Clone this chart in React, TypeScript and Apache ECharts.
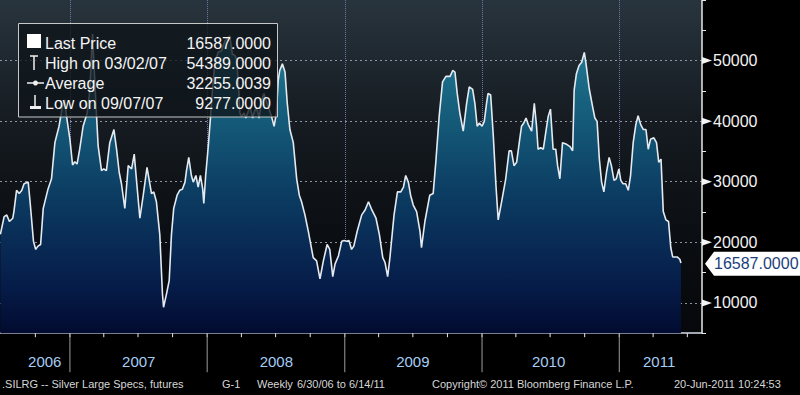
import React, { useEffect, useRef } from 'react';
import * as echarts from 'echarts';

const DATES = [
  '2006-06-30','2006-07-10','2006-07-17','2006-07-24','2006-08-02','2006-08-05','2006-08-12','2006-08-19','2006-08-26','2006-09-01',
  '2006-09-12','2006-09-17','2006-09-26','2006-10-02','2006-10-08','2006-10-15','2006-10-22','2006-11-04','2006-11-13','2006-11-22',
  '2006-12-03','2006-12-12','2006-12-18','2006-12-23','2007-01-01','2007-01-08','2007-01-14','2007-01-20','2007-01-27','2007-02-05',
  '2007-02-16','2007-02-23','2007-03-02','2007-03-11','2007-03-17','2007-03-26','2007-04-01','2007-04-08','2007-04-17','2007-04-28',
  '2007-05-05','2007-05-12','2007-05-18','2007-05-27','2007-06-05','2007-06-14','2007-06-21','2007-06-29','2007-07-06','2007-07-15',
  '2007-07-25','2007-08-06','2007-08-12','2007-08-19','2007-08-28','2007-09-04','2007-09-07','2007-09-15','2007-09-22','2007-09-28',
  '2007-10-04','2007-10-13','2007-10-20','2007-10-27','2007-11-03','2007-11-07','2007-11-13','2007-11-20','2007-11-25','2007-12-02',
  '2007-12-08','2007-12-14','2007-12-20','2007-12-23','2007-12-28','2008-01-04','2008-01-10','2008-01-15','2008-01-21','2008-01-30',
  '2008-02-08','2008-02-17','2008-02-26','2008-03-01','2008-03-08','2008-03-15','2008-03-19','2008-03-24','2008-03-28','2008-04-01',
  '2008-04-08','2008-04-13','2008-04-19','2008-04-24','2008-05-01','2008-05-07','2008-05-13','2008-05-18','2008-05-25','2008-05-31',
  '2008-06-05','2008-06-11','2008-06-20','2008-06-27','2008-07-03','2008-07-08','2008-07-12','2008-07-19','2008-07-26','2008-08-01',
  '2008-08-08','2008-08-17','2008-08-26','2008-09-02','2008-09-08','2008-09-17','2008-09-26','2008-10-09','2008-10-18','2008-10-27',
  '2008-11-05','2008-11-15','2008-11-22','2008-11-30','2008-12-06','2008-12-15','2008-12-24','2008-12-30','2009-01-06','2009-01-12',
  '2009-01-19','2009-01-25','2009-02-03','2009-02-15','2009-02-24','2009-03-05','2009-03-14','2009-03-25','2009-04-03','2009-04-12',
  '2009-04-18','2009-04-25','2009-05-01','2009-05-12','2009-05-21','2009-05-30','2009-06-06','2009-06-12','2009-06-19','2009-06-25',
  '2009-07-02','2009-07-11','2009-07-20','2009-07-24','2009-08-02','2009-08-15','2009-08-24','2009-08-31','2009-09-09','2009-09-18',
  '2009-09-27','2009-10-08','2009-10-15','2009-10-21','2009-10-27','2009-11-03','2009-11-12','2009-11-21','2009-11-28','2009-12-07',
  '2009-12-13','2009-12-19','2009-12-25','2010-01-01','2010-01-07','2010-01-13','2010-01-17','2010-01-24','2010-01-31','2010-02-07',
  '2010-02-13','2010-02-22','2010-03-05','2010-03-14','2010-03-20','2010-03-27','2010-04-03','2010-04-10','2010-04-16','2010-04-22',
  '2010-04-28','2010-05-04','2010-05-13','2010-05-20','2010-05-26','2010-05-30','2010-06-06','2010-06-13','2010-06-20','2010-06-26',
  '2010-07-02','2010-07-09','2010-07-16','2010-07-21','2010-07-27','2010-08-03','2010-08-14','2010-08-23','2010-08-30','2010-09-03',
  '2010-09-09','2010-09-16','2010-09-23','2010-09-30','2010-10-04','2010-10-13','2010-10-22','2010-10-28','2010-11-03','2010-11-09',
  '2010-11-15','2010-11-21','2010-11-28','2010-12-05','2010-12-11','2010-12-18','2010-12-24','2010-12-31','2011-01-05','2011-01-11',
  '2011-01-18','2011-01-25','2011-01-31','2011-02-07','2011-02-14','2011-02-20','2011-02-27','2011-03-06','2011-03-13','2011-03-19',
  '2011-03-25','2011-04-03','2011-04-10','2011-04-16','2011-04-22','2011-04-28','2011-05-05','2011-05-12','2011-05-18','2011-05-23',
  '2011-05-29','2011-06-04','2011-06-11','2011-06-14'
];

const VALUES = [
  21300,24250,24500,23440,23980,25070,28590,28050,28590,29670,
  29940,26690,20190,18830,19380,19650,25610,28860,30490,36450,
  39160,42410,43500,40790,37000,32760,33310,32930,35370,39160,
  41330,45120,54389,42950,35910,31840,32110,31840,36450,38620,
  35370,31570,29670,25610,32660,32110,34550,28860,23980,27780,
  32380,28050,28320,26690,21270,11520,9277,11520,13690,21270,
  25610,27780,28590,28750,29940,31840,34010,31030,29940,31030,
  29130,31030,28860,26420,31030,35910,40790,45120,49460,51360,
  51630,53250,53790,54060,51080,50810,50270,46210,41330,40790,
  41330,40520,41600,42410,40520,41870,41870,40520,43500,44580,
  43500,42410,40790,39160,41330,46750,48370,49460,48100,42950,
  38620,36450,30490,27780,26690,24530,21820,17480,16940,13960,
  16940,19650,18830,14340,16400,17750,20190,20300,20190,20300,
  18830,19380,21820,24530,25340,26690,25340,23980,21270,17480,
  16670,14340,17480,24530,28320,28320,29130,31030,29940,27780,
  26150,25070,21820,19110,23440,27780,28050,33200,40790,46480,
  47400,47400,48370,48100,44580,41330,38350,42950,45660,45230,
  42950,39160,39700,39160,39970,42950,44580,44310,37530,29400,
  23710,26690,30490,35100,35100,32660,33200,36450,39160,39700,
  40520,39430,38350,42950,39160,35370,35640,35370,38350,40790,
  41980,35370,35370,32660,30490,36450,36180,35800,35100,45120,
  47830,49190,49730,51360,49730,45390,42410,40520,39970,33740,
  29940,28320,31570,34010,32660,30220,30490,32110,30220,29670,
  29670,28590,31030,36450,39430,40900,39430,38620,38620,35370,
  37000,37260,36450,33200,33740,25070,23710,23440,19110,17590,
  17590,17590,17210,16587
];

const X_MIN = '2006-06-29';
const X_MAX = '2011-08-09';
const Y_MIN = 5000;
const Y_MAX = 60000;
const Y_STEP = 5000;
const Y_GRID = [10000, 20000, 30000, 40000, 50000];
const YEAR_STARTS = ['2007-01-01', '2008-01-01', '2009-01-01', '2010-01-01', '2011-01-01'];
const QUARTER_TICKS = [
  '2006-10-01', '2007-01-01', '2007-04-01', '2007-07-01', '2007-10-01',
  '2008-01-01', '2008-04-01', '2008-07-01', '2008-10-01',
  '2009-01-01', '2009-04-01', '2009-07-01', '2009-10-01',
  '2010-01-01', '2010-04-01', '2010-07-01', '2010-10-01',
  '2011-01-01', '2011-04-01', '2011-07-01'
];
const YEAR_LABELS = ['2006', '2007', '2008', '2009', '2010', '2011'];
const YEAR_LABEL_DATES = ['2006-10-26', '2007-07-03', '2008-07-03', '2009-07-01', '2010-06-27', '2011-04-17'];
const LAST_PRICE = 16587;
const LAST_PRICE_TEXT = '16587.0000';
const LEGEND_LABELS = ['Last Price', 'High on 03/02/07', 'Average', 'Low on 09/07/07'];
const LEGEND_VALUES = ['16587.0000', '54389.0000', '32255.0039', '9277.0000'];
const FOOTER_TEXTS = [
  '.SILRG -- Silver Large Specs, futures',
  'G-1',
  'Weekly',
  '6/30/06 to 6/14/11',
  'Copyright\u00A9 2011 Bloomberg Finance L.P.',
  '20-Jun-2011 10:24:53'
];
const FOOTER_X = [2, 222, 257, 297, 432, 674];

const FONT = '"Liberation Sans", Arial, sans-serif';

const toTime = (d: string) => new Date(d + 'T00:00:00').getTime();

export default function App() {
  const ref = useRef<HTMLDivElement>(null);

  useEffect(() => {
    if (!ref.current) return;
    const chart = echarts.init(ref.current, undefined, { renderer: 'svg' });

    const areaGradient = new echarts.graphic.LinearGradient(0, 0, 0, 333, [
      { offset: 0, color: '#2b8ea8' },
      { offset: 0.3, color: '#17627f' },
      { offset: 0.6, color: '#0b3a60' },
      { offset: 0.85, color: '#061d4a' },
      { offset: 1, color: '#020b30' }
    ], true);

    const bgGradient = new echarts.graphic.LinearGradient(0, 0, 0, 1, [
      { offset: 0, color: '#28343d' },
      { offset: 0.35, color: '#161c22' },
      { offset: 0.7, color: '#0b0e12' },
      { offset: 1, color: '#06080b' }
    ]);

    const legendRowY = [43, 63, 83, 103];

    const graphic: any[] = [
      {
        type: 'rect', z: 100,
        shape: { x: 18.5, y: 23.5, width: 259, height: 93.5 },
        style: { fill: 'rgba(14,20,26,0.78)', stroke: '#c8c8c8', lineWidth: 1 }
      },
      { type: 'rect', z: 101, shape: { x: 27, y: 34, width: 14, height: 14 }, style: { fill: '#ffffff' } },
      { type: 'line', z: 101, shape: { x1: 34, y1: 56, x2: 34, y2: 70 }, style: { stroke: '#f0f0f0', lineWidth: 1.5 } },
      { type: 'line', z: 101, shape: { x1: 30, y1: 56, x2: 38, y2: 56 }, style: { stroke: '#f0f0f0', lineWidth: 1.5 } },
      { type: 'line', z: 101, shape: { x1: 27, y1: 83, x2: 44, y2: 83 }, style: { stroke: '#f0f0f0', lineWidth: 1.5 } },
      { type: 'circle', z: 101, shape: { cx: 35.5, cy: 83, r: 2.5 }, style: { fill: '#f0f0f0' } },
      { type: 'line', z: 101, shape: { x1: 35, y1: 95, x2: 35, y2: 108 }, style: { stroke: '#f0f0f0', lineWidth: 1.5 } },
      { type: 'rect', z: 101, shape: { x: 30, y: 106, width: 11, height: 3 }, style: { fill: '#f0f0f0' } }
    ];
    LEGEND_LABELS.forEach((t, i) => {
      graphic.push({
        type: 'text', z: 101, x: 45, y: legendRowY[i],
        style: { text: t, fill: '#f4f4f4', font: '16px ' + FONT, verticalAlign: 'middle', align: 'left' }
      });
      graphic.push({
        type: 'text', z: 101, x: 271, y: legendRowY[i],
        style: { text: LEGEND_VALUES[i], fill: '#f4f4f4', font: '16px ' + FONT, verticalAlign: 'middle', align: 'right' }
      });
    });
    FOOTER_TEXTS.forEach((t, i) => {
      graphic.push({
        type: 'text', z: 101, x: FOOTER_X[i], y: 384,
        style: { text: t, fill: '#d6d6d6', font: '11px ' + FONT, verticalAlign: 'middle', align: 'left' }
      });
    });

    const option: any = {
      animation: false,
      backgroundColor: '#000000',
      grid: {
        left: 0, right: 98, top: -5.05, bottom: 61.8,
        show: true, backgroundColor: bgGradient, borderWidth: 0
      },
      xAxis: [
        {
          type: 'time', min: X_MIN, max: X_MAX,
          axisLine: { show: true, lineStyle: { color: '#d8dcea', width: 1.5 } },
          axisTick: { show: false },
          axisLabel: { show: false },
          splitLine: { show: false }
        },
        {
          type: 'time', min: X_MIN, max: X_MAX, position: 'bottom',
          axisLine: { show: false },
          axisTick: { show: false, customValues: YEAR_STARTS.map(toTime) },
          axisLabel: { show: false, customValues: YEAR_STARTS.map(toTime) },
          splitLine: { show: true, lineStyle: { color: '#6a76a4', width: 1, type: 'dotted' } }
        }
      ],
      yAxis: [
        {
          type: 'value', position: 'right', min: Y_MIN, max: Y_MAX, interval: Y_STEP,
          axisLine: { show: true, lineStyle: { color: '#e8e8e8', width: 1.5 } },
          axisTick: { show: true, length: 4, lineStyle: { color: '#e8e8e8' } },
          axisLabel: {
            margin: 11, color: '#f2f2f2', fontFamily: FONT, fontSize: 16,
            formatter: (v: number) => (v % 10000 === 0 && v <= 50000 ? String(v) : '')
          },
          splitLine: { show: false }
        },
        {
          type: 'value', position: 'right', min: Y_MIN, max: Y_MAX,
          axisLine: { show: false },
          axisTick: { show: false, customValues: Y_GRID },
          axisLabel: { show: false, customValues: Y_GRID },
          splitLine: { show: true, lineStyle: { color: '#8a94a2', width: 1, type: [2, 3] } }
        }
      ],
      graphic,
      series: [
        {
          type: 'line', name: 'Last Price',
          data: DATES.map((d, i) => [d, VALUES[i]]),
          symbol: 'none', showSymbol: false,
          lineStyle: { color: '#e4eaf0', width: 1.6 },
          areaStyle: { origin: 'start', color: areaGradient, opacity: 1 },
          z: 3
        },
        {
          type: 'custom', coordinateSystem: 'cartesian2d', clip: false, z: 10,
          data: QUARTER_TICKS.map((d) => [d, Y_MIN]),
          encode: { x: 0, y: 1 },
          renderItem: (params: any, api: any) => {
            const t = api.value(0);
            const p = api.coord([t, Y_MIN]);
            const isYear = new Date(t).getMonth() === 0;
            const children: any[] = [
              { type: 'line', shape: { x1: p[0], y1: p[1], x2: p[0], y2: p[1] + 4 }, style: { stroke: '#e8e8e8', lineWidth: 1 } }
            ];
            if (isYear) {
              children.push({ type: 'line', shape: { x1: p[0], y1: p[1], x2: p[0], y2: p[1] + 39 }, style: { stroke: '#9c9c9c', lineWidth: 1 } });
            }
            return { type: 'group', children };
          }
        },
        {
          type: 'custom', coordinateSystem: 'cartesian2d', clip: false, z: 10,
          data: YEAR_LABEL_DATES.map((d) => [d, Y_MIN]),
          encode: { x: 0, y: 1 },
          renderItem: (params: any, api: any) => {
            const p = api.coord([api.value(0), Y_MIN]);
            return {
              type: 'text', x: p[0], y: p[1] + 28.5,
              style: { text: YEAR_LABELS[params.dataIndex], fill: '#a6cdf4', font: '15px ' + FONT, align: 'center', verticalAlign: 'middle' }
            };
          }
        },
        {
          type: 'custom', coordinateSystem: 'cartesian2d', clip: false, z: 10,
          data: Y_GRID.map((v) => [X_MAX, v]),
          encode: { x: 0, y: 1 },
          renderItem: (params: any, api: any) => {
            const p = api.coord([api.value(0), api.value(1)]);
            return {
              type: 'polygon',
              shape: { points: [[p[0], p[1] - 3.5], [p[0], p[1] + 3.5], [p[0] + 10, p[1]]] },
              style: { fill: '#f4f4f4' }
            };
          }
        },
        {
          type: 'custom', coordinateSystem: 'cartesian2d', clip: false, z: 20,
          data: [[X_MAX, LAST_PRICE]],
          encode: { x: 0, y: 1 },
          renderItem: (params: any, api: any) => {
            const p = api.coord([api.value(0), api.value(1)]);
            const x = p[0];
            const y = p[1] + 0.8;
            return {
              type: 'group',
              children: [
                {
                  type: 'polygon',
                  shape: { points: [[x + 3, y], [x + 12, y - 12], [x + 98, y - 12], [x + 98, y + 12], [x + 12, y + 12]] },
                  style: { fill: '#ffffff' }
                },
                {
                  type: 'text', x: x + 12, y: y,
                  style: { text: LAST_PRICE_TEXT, fill: '#1c3f7c', font: '16px ' + FONT, align: 'left', verticalAlign: 'middle' }
                }
              ]
            };
          }
        }
      ]
    };

    chart.setOption(option);
    return () => chart.dispose();
  }, []);

  return (
    <div
      ref={ref}
      style={{ position: 'fixed', left: 0, top: 0, width: 800, height: 395, background: '#000' }}
    />
  );
}
